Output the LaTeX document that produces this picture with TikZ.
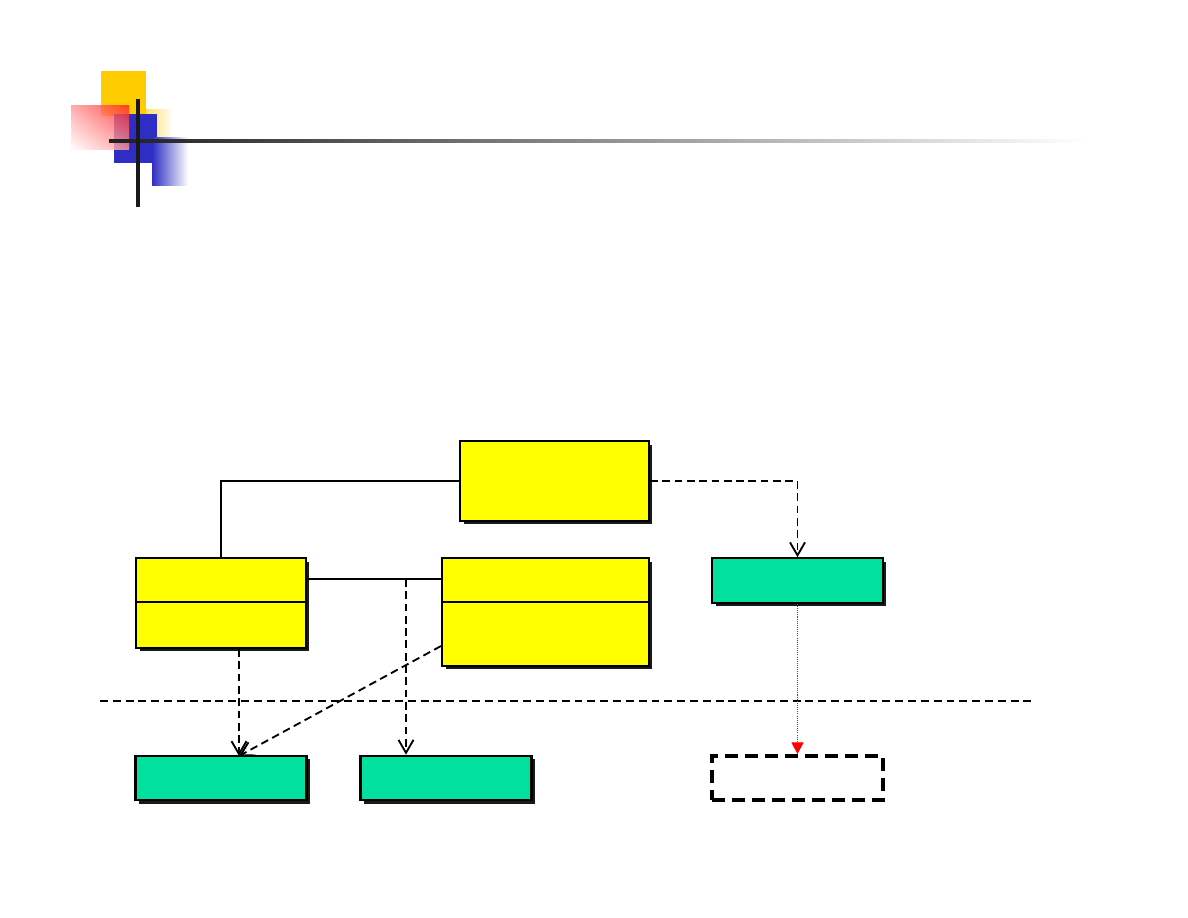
\documentclass[tikz,border=0pt]{standalone}
\usepackage{xcolor}
\usepackage{tikz}
\usetikzlibrary{arrows.meta,calc,shadows,shadings}
\definecolor{cclass}{HTML}{FFFF00}
\definecolor{cgreen}{HTML}{02E0A0}
\definecolor{clogoyel}{HTML}{FFCC00}
\definecolor{clogoblue}{HTML}{2E2EC4}
\definecolor{clogored}{HTML}{FF2020}

\begin{document}
\begin{tikzpicture}[
    x=0.02cm, y=-0.02cm,
    boxshadow/.style={drop shadow={shadow xshift=0.07cm, shadow yshift=-0.07cm, fill=black!90, opacity=1}},
    klass/.style={draw=black, fill=cclass, line width=1.2pt, boxshadow},
    comp/.style={draw=black, fill=cgreen, line width=1.2pt, boxshadow,
                 minimum width=3.42cm, minimum height=0.89cm},
    ghost/.style={draw=black, line width=2pt, dash pattern=on 7.4pt off 4pt,
                  minimum width=3.42cm, minimum height=0.89cm},
    assoc/.style={draw=black, line width=1.05pt},
    dep/.style={draw=black, line width=1.05pt, dash pattern=on 4.4pt off 2.6pt,
                -{Straight Barb[length=2.6mm,width=3mm,line width=1.05pt]}},
    real/.style={draw=red, line width=0.5pt, dash pattern=on 0.6pt off 0.6pt,
                 -{Triangle[length=2.3mm,width=2.4mm,fill=red]}},
    sep/.style={draw=black, line width=1pt, dash pattern=on 4.5pt off 2.8pt}
]
\useasboundingbox[fill=white] (0,0) rectangle (1188,918);

% logo
\fill[clogoyel] (101,71) rectangle (146,116);
\shade[left color=clogoyel!60!white, right color=white] (146,110) rectangle (173,138);
\fill[clogoblue] (114,114) rectangle (157,163);
\shade[left color=clogoblue, right color=white] (152,138) rectangle (188,186);
\shade[upper right=clogored, lower left=white, upper left=clogored!45!white,
       lower right=clogored!45!white, opacity=0.8] (71,106) rectangle (129,150);
\shade[left color=black!88, middle color=black!40, right color=white] (109,139.4) rectangle (1085,142.6);
\draw[black!90, line width=1.8pt] (138,99) -- (138,207);

% classes
\node[klass, minimum width=3.78cm, minimum height=1.6cm] (top) at (554.5,481) {};
\node[klass, minimum width=3.4cm, minimum height=1.8cm] (lc) at (221,603) {};
\node[klass, minimum width=4.14cm, minimum height=2.16cm] (mc) at (545.5,612) {};
\draw[line width=1.2pt] ($(lc.north west)+(0,45)$) -- ($(lc.north east)+(0,45)$);
\draw[line width=1.2pt] ($(mc.north west)+(0,45)$) -- ($(mc.north east)+(0,45)$);

% components
\node[comp] (gr) at (797.5,580.5) {};
\node[comp] (b1) at (221,778) {};
\node[comp] (b2) at (446,778) {};
\node[ghost] (db) at (797.5,778) {};

\coordinate (sepL) at (100,701);
\coordinate (sepR) at (1033,701);
\coordinate (link) at (406,579);
\coordinate (b1in) at (239,756);

\draw[sep] (sepL) -- (sepR);
\draw[assoc] (top.west) -| (lc.north);
\draw[assoc] (lc.east |- link) -- (mc.west |- link);
\draw[dep] (top.east) -| (gr.north);
\draw[dep] (link) -- (link |- b2.north);
\draw[dep] (lc.south -| b1in) -- (b1in);
\draw[dep] ($(mc.south west)+(0,-21)$) -- (b1in);
\draw[real] (gr.south) -- (db.north);
\end{tikzpicture}
\end{document}
